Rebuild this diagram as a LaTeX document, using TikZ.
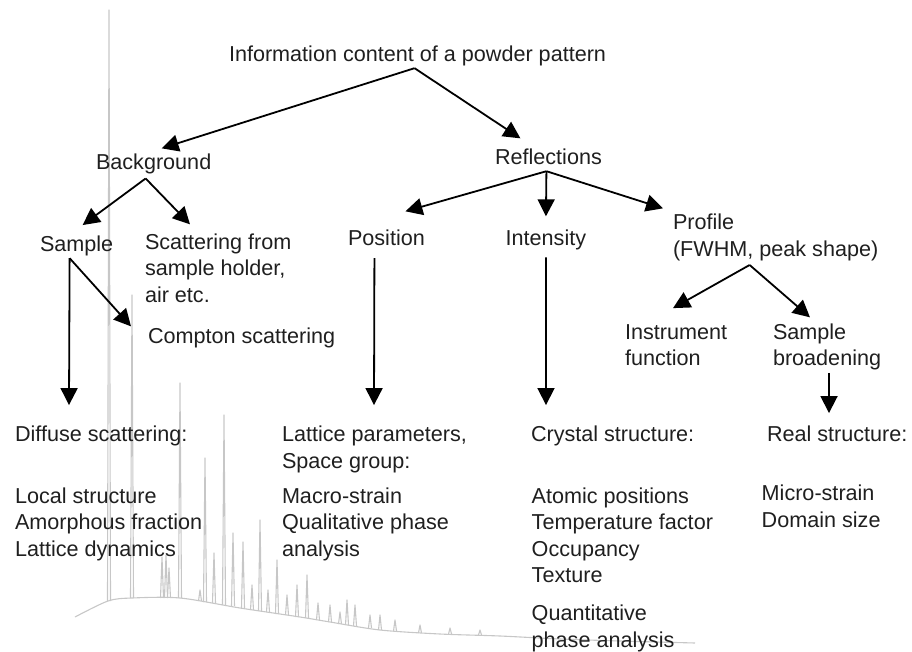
\documentclass[tikz,border=0pt]{standalone}
\usepackage{fontspec}
\setmainfont{Liberation Sans}
\usetikzlibrary{arrows.meta}

\begin{document}
\begin{tikzpicture}[x=1pt,y=-1pt,
        font=\fontsize{21.6}{26.5}\selectfont,
        every node/.style={inner sep=0pt,outer sep=0pt,anchor=base west,align=left,text=black!88},
        arr/.style={line width=1.8pt,-{Triangle[length=17pt,width=17pt]}},
        peak/.style={black!22,line width=1.1pt,line join=round}]

    \useasboundingbox (0,0) rectangle (912,652);

    % powder pattern behind the text
    \draw[peak] plot[smooth] coordinates {(75,617) (108,601) (132,598) (180,598) (240,608)
        (300,617) (330,622) (380,630) (440,634) (500,636) (560,639) (620,641) (695,643)};
    \foreach \x/\b/\t in {109/601/10,132/598/295,162/598/557,166/598/555,169/598/568,
        180/598/383,200/601/590,205/602/458,214/603/553,224/605/415,233/606/533,
        243/608/542,252/610/585,260/611/520,268/612/590,277/614/560,287/615/595,
        297/617/585,307/618/575,318/620/603,330/622/605,340/624/612,347/625/600,
        355/626/605,370/628/615,380/630/615,395/631/620,420/633/625,450/634/628,480/635/630}
        \draw[peak] ({\x-1.5},\b) -- (\x,\t) -- ({\x+1.5},\b);

    % base anchor of a node with several lines sits on its last line
    \node (title) at (229,61.7) {Information content of a powder pattern};

    \node (bg)   at (96,170)  {Background};
    \node (refl) at (495,165) {Reflections};

    \node (smp)  at (40,251.7) {Sample};
    \node (scat) at (145,302)  {Scattering from\\sample holder,\\air etc.};
    \node (cmp)  at (148,343)  {Compton scattering};

    \node (pos)  at (348,246)   {Position};
    \node (int)  at (505.7,246) {Intensity};
    \node (prof) at (673,256.5) {Profile\\(FWHM, peak shape)};
    \node (ins)  at (625,365.5) {Instrument\\function};
    \node (sbr)  at (773,365.5) {Sample\\broadening};

    \node (diff) at (15,441.7)  {Diffuse scattering:};
    \node (lat)  at (282,468.2) {Lattice parameters,\\Space group:};
    \node (cry)  at (531,441.7) {Crystal structure:};
    \node (real) at (767,441.7) {Real structure:};

    \node (loc)   at (15,556)    {Local structure\\Amorphous fraction\\Lattice dynamics};
    \node (mac)   at (282,556)   {Macro-strain\\Qualitative phase\\analysis};
    \node (atom)  at (531.7,582.5) {Atomic positions\\Temperature factor\\Occupancy\\Texture};
    \node (quant) at (531.7,647) {Quantitative\\phase analysis};
    \node (micro) at (761.7,527) {Micro-strain\\Domain size};

    \draw[arr] ([xshift=-3pt,yshift=-2pt]title.south) -- ([xshift=8pt,yshift=6pt]bg.north);
    \draw[arr] ([xshift=-3pt,yshift=-2pt]title.south) -- ([xshift=-28pt,yshift=11pt]refl.north);

    \draw[arr] ([xshift=-8pt,yshift=-4pt]bg.south) -- ([xshift=6pt,yshift=11pt]smp.north);
    \draw[arr] ([xshift=-8pt,yshift=-4pt]bg.south) -- ([xshift=45pt,yshift=9pt]scat.north west);

    \draw[arr] ([xshift=-7pt,yshift=-2pt]smp.south) -- ([xshift=-17pt,yshift=1pt]cmp.north west);
    \draw[arr] ([xshift=-7pt,yshift=-2pt]smp.south) -- ([xshift=54pt,yshift=21pt]diff.north west);

    \draw[arr] ([xshift=-2pt,yshift=-6pt]refl.south) -- ([xshift=19pt,yshift=19pt]pos.north);
    \draw[arr] ([xshift=-2pt,yshift=-6pt]refl.south) -- ([yshift=14pt]int.north);
    \draw[arr] ([xshift=-2pt,yshift=-6pt]refl.south) -- ([xshift=-10pt,yshift=6pt]prof.north west);

    \draw[arr] ([xshift=-12pt,yshift=-12pt]pos.south) -- ([xshift=92pt,yshift=21pt]lat.north west);
    \draw[arr] ([yshift=-7pt]int.south) -- ([xshift=15pt,yshift=21pt]cry.north west);

    \draw[arr] ([xshift=-26pt,yshift=-4pt]prof.south) -- ([xshift=48pt,yshift=16pt]ins.north west);
    \draw[arr] ([xshift=-26pt,yshift=-4pt]prof.south) -- ([xshift=37pt,yshift=6pt]sbr.north west);
    \draw[arr] ([xshift=56pt,yshift=-3pt]sbr.south west) -- ([xshift=62pt,yshift=13pt]real.north west);
\end{tikzpicture}
\end{document}
